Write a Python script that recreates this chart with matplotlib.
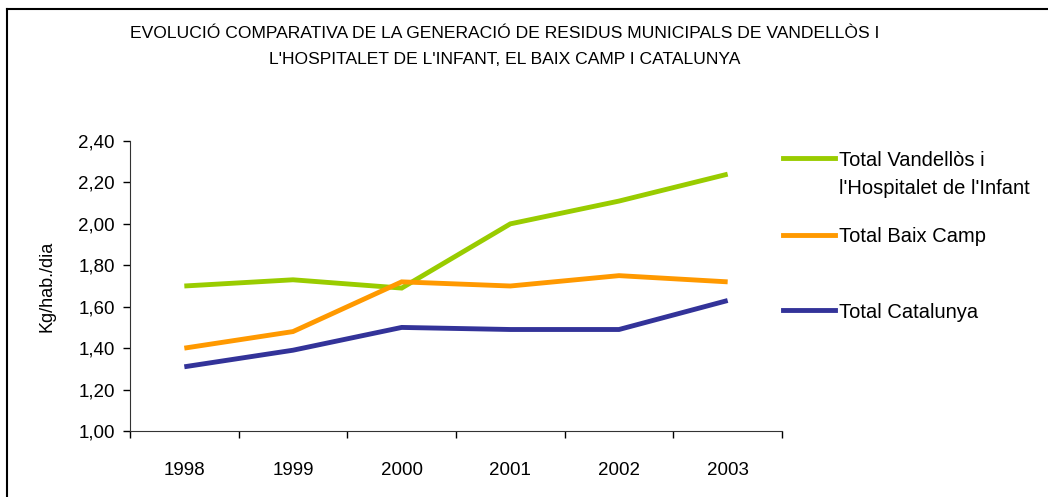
import matplotlib
matplotlib.use("Agg")
import matplotlib.pyplot as plt
from matplotlib.lines import Line2D

years = ["1998", "1999", "2000", "2001", "2002", "2003"]
vandellos = [1.70, 1.73, 1.69, 2.00, 2.11, 2.24]
baix_camp = [1.40, 1.48, 1.72, 1.70, 1.75, 1.72]
catalunya = [1.31, 1.39, 1.50, 1.49, 1.49, 1.63]
series_labels = ["Total Vandellòs i\nl'Hospitalet de l'Infant", "Total Baix Camp", "Total Catalunya"]
series_colors = ["#99CC00", "#FF9900", "#333399"]
yticks = [1.00, 1.20, 1.40, 1.60, 1.80, 2.00, 2.20, 2.40]
title_lines = ["EVOLUCIÓ COMPARATIVA DE LA GENERACIÓ DE RESIDUS MUNICIPALS DE VANDELLÒS I",
               "L'HOSPITALET DE L'INFANT, EL BAIX CAMP I CATALUNYA"]
ylabel = "Kg/hab./dia"

plt.rcParams['font.family'] = ["Liberation Sans", "DejaVu Sans"]

W, H = 1048, 497
fig = plt.figure(figsize=(W / 100, H / 100), dpi=100)
ax = fig.add_axes([130 / W, 1 - 431 / H, (782 - 130) / W, (431 - 141) / H])

x = list(range(len(years)))
for vals, c in zip([vandellos, baix_camp, catalunya], series_colors):
    ax.plot(x, vals, color=c, lw=3.5, solid_capstyle='butt', solid_joinstyle='miter')

ax.set_xlim(-0.5, len(years) - 0.5)
ax.set_ylim(1.0, 2.4)
ax.set_yticks(yticks)
ax.set_yticklabels([f"{v:.2f}".replace(".", ",") for v in yticks], fontsize=13.5)
ax.set_xticks([i - 0.5 for i in range(len(years) + 1)])
ax.set_xticklabels([])
ax.set_xticks(x, minor=True)
ax.set_xticklabels(years, minor=True, fontsize=13.5)
ax.tick_params(axis='x', which='minor', length=0, pad=22)
ax.tick_params(axis='x', which='major', length=5, width=1, direction='out')
ax.tick_params(axis='y', length=5, width=1, direction='out', pad=6)
for s in ['top', 'right']:
    ax.spines[s].set_visible(False)
for s in ['left', 'bottom']:
    ax.spines[s].set_color('#333333')
ax.set_ylabel(ylabel, fontsize=13, labelpad=16)

for line, yy in zip(title_lines, [33, 60]):
    fig.text(505 / W, 1 - yy / H, line, ha='center', va='center', fontsize=12.6)

# legend
leg_y = [158, 235, 310]
for lab, c, yy in zip(series_labels, series_colors, leg_y):
    yf = 1 - yy / H
    fig.add_artist(Line2D([783 / W, 835 / W], [yf, yf], color=c, lw=3.5, transform=fig.transFigure))
    for k, part in enumerate(lab.split("\n")):
        fig.text(839 / W, 1 - (yy + 2 + 29 * k) / H, part, ha='left', va='center', fontsize=14.5)

# frame border (top and left)
fig.add_artist(Line2D([7 / W, 1], [1 - 9 / H, 1 - 9 / H], color='black', lw=1.5, transform=fig.transFigure))
fig.add_artist(Line2D([7 / W, 7 / W], [0, 1 - 9 / H], color='black', lw=1.5, transform=fig.transFigure))

fig.savefig("out.png", dpi=100)
